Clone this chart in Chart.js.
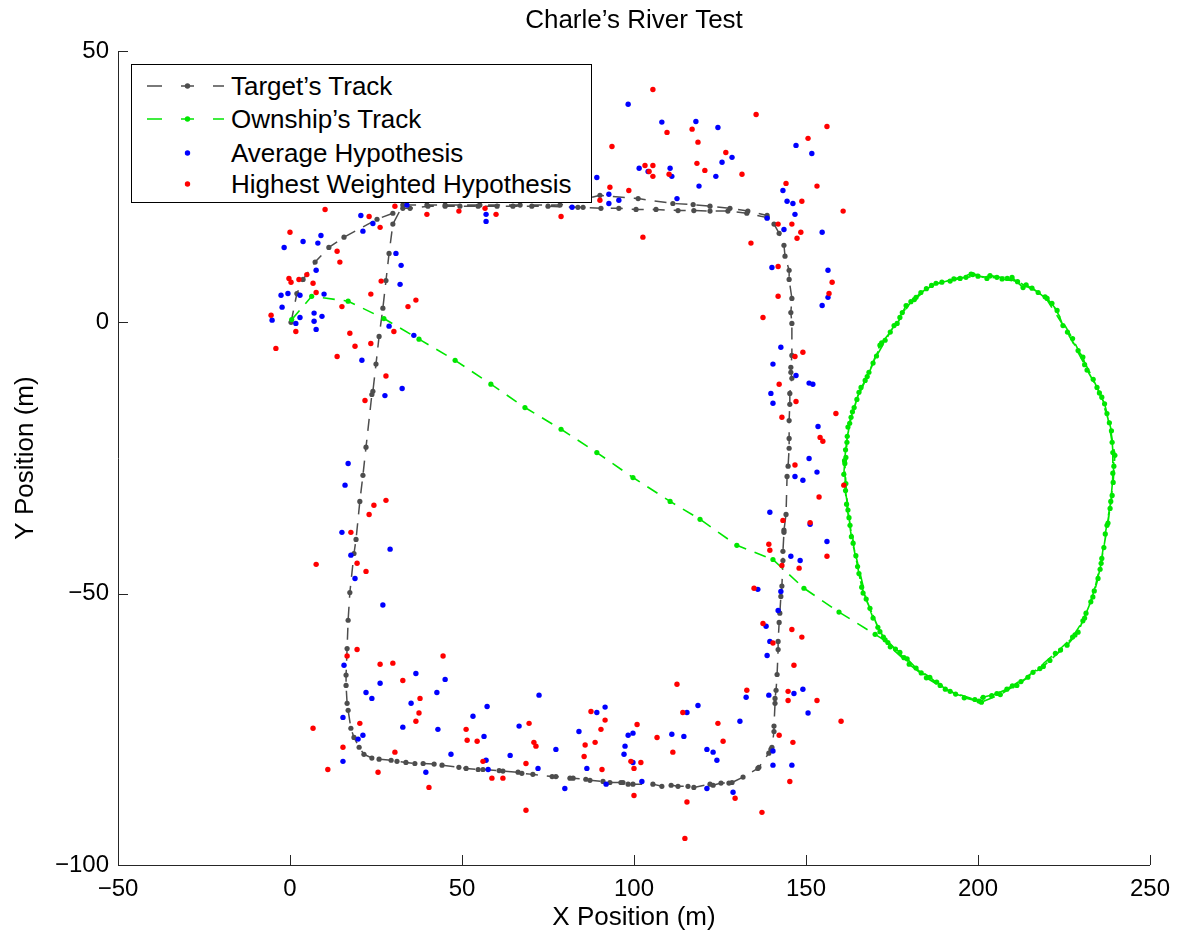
<!DOCTYPE html>
<html>
<head>
<meta charset="utf-8">
<script src="https://cdn.jsdelivr.net/npm/chart.js@4.4.1/dist/chart.umd.min.js"></script>
<style>
  html, body { margin: 0; padding: 0; background: #fff; }
  #wrap { position: relative; width: 1180px; height: 937px; }
  #c { position: absolute; left: 0; top: 0; }
  #legend {
    position: absolute; left: 131px; top: 64px; width: 459px; height: 137px;
    border: 1.5px solid #000; background: #fff;
    font-family: "Liberation Sans", Arial, sans-serif; font-size: 26px; color: #000;
  }
  .row { position: absolute; left: 0; height: 32px; width: 100%; }
  .row svg { position: absolute; left: 0; top: 0; }
  .row span { position: absolute; left: 99px; top: 0; line-height: 32px; white-space: nowrap; }
</style>
</head>
<body>
<div id="wrap">
  <canvas id="c" width="1180" height="937"></canvas>
  <div id="legend"></div>
</div>
<script>
// ---------------- data ----------------
const chartTitle = "Charle\u2019s River Test";
const xAxisTitle = "X Position (m)";
const yAxisTitle = "Y Position (m)";
const xTicks = [-50, 0, 50, 100, 150, 200, 250];
const yTicks = [-100, -50, 0, 50];
const seriesNames = ["Target\u2019s Track", "Ownship\u2019s Track", "Average Hypothesis", "Highest Weighted Hypothesis"];

const targetTrack = [
[0.3,0.0],[2.0,5.3],[3.8,7.9],[7.3,11.1],[11.3,13.8],[15.7,15.7],[25.3,19.0],[29.9,20.1],[32.8,21.0],
[34.9,21.0],[40.1,21.4],[45.1,21.4],[49.4,21.4],[54.7,21.4],[60.2,21.4],[64.8,21.4],[70.3,21.4],[75.0,21.4],[83.7,21.2],[85.2,21.2],[90.4,21.0],[95.6,21.0],[100.6,20.8],[106.4,20.8],[112.8,20.6],[117.4,20.6],[122.1,20.5],[127.3,20.5],[132.8,20.1],[138.7,19.3],
[140.7,18.1],[142.2,16.4],[143.6,14.2],[143.9,12.2],[145.1,9.6],[145.1,7.9],[145.9,4.4],[145.6,1.8],[145.9,-0.2],[145.9,-6.1],[145.6,-8.3],[145.6,-9.2],[145.9,-10.3],[145.3,-13.1],[145.3,-15.1],[145.1,-18.1],[145.1,-21.4],[145.1,-23.2],[144.8,-26.5],[144.5,-28.4],[144.2,-35.4],[143.6,-38.3],[143.6,-38.7],[143.3,-42.2],[143.3,-43.9],[143.0,-48.6],[142.7,-50.5],[142.4,-53.6],[142.2,-55.3],[141.9,-58.8],[141.9,-60.3],[141.6,-64.9],[141.3,-67.8],[141.0,-69.3],[141.0,-70.2],[140.7,-74.4],[140.7,-75.4],[140.1,-78.3],[139.8,-78.7],[139.2,-79.4],[136.3,-82.0],[136.0,-82.2],[131.7,-83.8],[128.5,-84.8],[127.6,-84.9],[125.3,-84.9],[123.0,-85.3],[122.1,-85.1],[117.4,-85.7],[115.7,-85.5],[112.8,-85.5],[110.8,-85.3],[108.1,-85.5],[105.5,-85.1],[99.7,-85.1],[98.3,-85.1],[96.8,-84.8],[96.2,-84.8],[93.0,-84.8],[91.0,-84.6],[87.2,-84.4],[86.0,-84.2],[82.3,-84.0],[81.4,-84.0],[77.3,-83.7],[76.2,-83.7],[70.6,-83.3],[67.4,-83.1],[66.3,-82.9],[61.9,-82.7],[60.8,-82.6],[56.1,-82.4],[54.7,-82.4],[51.2,-82.2],[49.1,-82.0],[44.2,-81.6],[41.9,-81.4],[38.7,-81.3],[36.3,-81.3],[33.7,-81.1],[31.1,-80.9],[29.4,-80.7],[25.9,-80.5],[23.8,-80.3],[21.5,-79.6],[20.1,-78.3],[18.6,-76.5],[17.7,-74.8],[16.9,-71.5],[16.6,-70.2],[16.3,-66.9],[16.3,-65.0],[16.6,-60.1],[16.9,-54.9],[17.4,-49.8],[18.6,-42.6],[19.2,-40.0],[20.3,-33.0],[21.2,-28.2],[22.1,-23.0],[23.8,-13.3],[24.1,-12.7],[25.0,-7.7],[25.9,-2.6],[27.0,2.6],[27.9,7.7],[28.8,12.7],[29.9,18.1],[32.8,21.6],[39.8,21.6],[45.1,21.6],[55.2,21.6],[66.9,21.6],[78.5,21.6],[90.1,23.4],[101.2,22.8],[111.3,21.9],[117.2,21.7],[122.1,21.4],[127.9,21.0],[133.1,20.5],[138.7,19.7]
];

const ownshipTrack = [
[0.5,0.5],[6.3,4.8],[16.9,3.9],[27.3,0.7],[37.5,-3.1],[48.0,-7.0],[58.4,-11.4],[68.3,-15.7],[78.8,-19.7],[89.2,-24.0],[99.7,-28.6],[110.5,-33.0],[119.2,-36.3],[129.9,-41.1],[140.4,-43.7],[149.4,-49.0],[159.6,-53.4],[170.1,-57.5],
[173.8,-59.0],[177.3,-60.8],[179.4,-62.0],[182.0,-63.7],[186.0,-65.4],[189.0,-66.9],[191.9,-68.0],[199.1,-69.5],[201.5,-69.1],[205.5,-68.4],[208.4,-67.6],[211.3,-66.9],[214.5,-65.4],[218.0,-63.8],[220.9,-62.3],[225.9,-59.5],[229.1,-57.1],[231.4,-53.6],[233.4,-50.6],[234.9,-47.2],[235.8,-44.4],[236.6,-41.5],[237.5,-37.4],[238.4,-34.3],[239.0,-31.9],[239.2,-27.8],[239.2,-24.0],[239.0,-22.1],[237.5,-16.8],[236.0,-13.8],[234.6,-12.0],[231.7,-8.8],[230.5,-6.4],[229.1,-5.2],[224.7,-0.6],[223.0,2.2],[220.1,4.4],[215.7,6.3],[213.1,6.4],[209.9,8.3],[205.5,8.3],[202.6,8.1],[198.5,8.8],[194.8,8.1],[191.9,7.6],[187.8,7.2],[183.4,5.5],[182.0,4.6],[179.1,3.1],[177.3,0.9],[175.6,-0.6],[173.0,-3.3],[171.5,-4.2],[168.3,-9.2],[167.2,-10.7],[165.4,-12.9],[164.0,-15.7],[163.1,-17.5],[162.2,-19.3],[161.9,-22.1],[161.6,-24.9],[161.3,-26.0],[161.6,-29.7],[162.2,-34.6],[162.8,-37.4],[163.7,-40.7],[165.4,-46.3],[166.6,-49.9],[168.6,-52.7],[170.9,-56.2],
[173.0,-58.5],[178.5,-61.8],[183.5,-64.6],[188.0,-66.3],[193.5,-68.5],[200.3,-69.8],[204.0,-68.8],[210.0,-67.0],[216.0,-64.5],[222.5,-61.0],[227.5,-58.0],[230.5,-55.0],[232.8,-51.5],[235.5,-45.5],[237.0,-39.0],[238.6,-33.0],[239.5,-26.5],[238.8,-20.0],[236.8,-15.0],[233.5,-10.5],[227.5,-3.0],[221.5,3.5],[217.5,5.5],[211.5,7.5],[207.0,8.0],[200.0,8.5],[196.5,8.3],[189.5,7.4],[185.0,6.2],[180.5,3.8],[176.5,-0.2],[172.0,-3.8],[169.5,-7.5],[166.0,-12.0],[163.5,-16.5],[162.0,-21.0],[161.2,-25.5],[161.5,-31.0],[162.5,-36.0],[164.5,-43.0],[167.5,-51.0],[171.5,-57.0],
[174.5,-59.8],[180.0,-63.0],[185.0,-65.5],[190.5,-67.6],[196.0,-69.2],[201.0,-70.0],[206.5,-68.6],[212.5,-66.2],[219.0,-63.4],[224.0,-60.4],[228.2,-57.6],[231.0,-54.5],[233.8,-49.5],[236.0,-43.5],[237.8,-37.0],[239.3,-29.5],[239.8,-24.5],[238.2,-18.5],[235.3,-13.0],[231.0,-7.8],[226.0,-1.8],[219.5,4.7],[214.0,6.9],[208.5,8.1],[203.5,8.6],[198.0,8.9],[193.0,8.0],[186.5,6.8],[181.5,4.2],[178.0,1.8],[174.5,-1.8],[170.5,-6.2],[167.8,-10.0],[164.8,-14.2],[162.7,-18.6],[161.5,-23.5],[161.0,-28.0],[161.8,-33.5],[163.2,-39.5],[165.0,-45.0],[166.2,-48.8],[169.5,-54.5],[172.5,-58.0],[176.0,-60.2]
];

const averageHyp = [
[89.2,26.7],[34.0,21.6],[82.0,21.2],[20.6,19.7],[24.1,18.2],[21.2,16.8],[9.0,16.0],[3.8,14.9],[8.1,14.6],[-1.7,13.8],[7.6,9.6],[30.8,12.7],[32.3,10.5],[32.0,7.0],[9.9,5.2],[-0.6,5.3],[-2.6,5.0],[2.9,5.0],[-2.3,2.8],[7.0,1.7],[9.3,1.1],[2.9,0.9],[-5.2,0.4],[1.7,-0.2],[7.0,0.2],[7.6,-1.3],[28.8,-0.7],[36.0,-2.4],
[20.9,-7.0],[32.6,-12.2],[27.6,-13.5],[16.9,-26.0],[16.0,-30.0],[15.1,-38.7],[29.1,-41.8],[17.7,-42.9],[18.9,-47.2],[27.0,-52.1],
[15.7,-63.2],[36.6,-64.7],[45.1,-65.8],[26.2,-66.5],[42.7,-68.2],[22.1,-68.2],[23.8,-69.3],[35.2,-70.2],[57.3,-70.8],[53.2,-72.6],[15.4,-72.8],[32.8,-74.6],[43.0,-75.0],[56.4,-76.3],[21.2,-76.1],[19.8,-76.8],[46.8,-79.6],[57.0,-80.7],[57.6,-82.4],[15.4,-80.9],[39.5,-82.9],
[72.4,-68.7],[66.6,-74.4],[64.0,-79.8],[72.1,-82.2],[77.3,-78.7],[79.9,-85.9],[84.0,-75.4],[89.2,-71.9],[91.6,-70.9],[86.3,-82.2],[91.9,-85.1],[98.3,-76.1],[99.7,-75.7],[97.4,-78.1],[97.1,-79.6],[99.7,-81.1],[102.3,-84.6],[111.0,-75.9],[115.4,-71.9],[114.5,-76.3],[118.6,-70.6],[121.2,-78.7],[123.0,-79.2],[124.1,-80.7],[130.8,-73.5],[121.2,-85.9],[128.8,-86.6],
[138.4,-56.0],[139.5,-58.8],[138.7,-61.4],[132.6,-69.1],[139.2,-68.7],[146.5,-68.4],[149.1,-67.6],[150.6,-72.0],[140.4,-79.0],[140.4,-81.6],[145.9,-81.6],
[142.7,-4.6],[140.4,-7.7],[147.1,-9.8],[150.9,-11.2],[152.0,-11.4],[139.8,-13.1],[140.4,-14.9],[153.5,-19.2],[150.9,-25.1],[153.2,-27.6],[146.8,-28.4],[149.1,-29.1],[139.5,-35.0],[151.2,-37.2],[156.1,-40.4],[145.6,-43.1],[148.3,-43.9],[136.0,-49.2],[142.7,-49.6],[141.9,-53.1],
[143.3,24.3],[144.5,22.3],[146.2,21.9],[146.8,19.9],[138.7,19.2],[143.6,17.1],[154.7,16.6],[140.1,10.1],[156.4,9.6],[156.4,4.6],[154.7,3.1],
[98.3,40.2],[108.1,36.9],[118.0,37.0],[124.4,35.9],[125.6,29.5],[128.5,30.4],[147.1,32.6],[101.5,28.4],[104.1,27.8],[110.5,28.4],[111.0,26.9],[123.8,26.9],[118.9,25.1],[92.7,23.6],[95.6,22.5],[92.7,21.9],[112.5,22.8],[57.0,19.9],[57.0,18.6],[151.7,31.1]
];

const highestHyp = [
[10.2,20.8],[30.5,21.4],[39.8,19.9],[49.1,20.5],[56.7,21.0],[90.1,22.5],[23.0,19.5],[26.2,17.5],[0.0,16.6],[13.7,13.1],[14.5,11.1],[4.9,8.8],[-0.3,8.1],[0.3,7.4],[2.6,7.9],[6.7,7.2],[26.5,7.6],[7.6,5.5],[23.5,5.2],[36.6,4.1],[34.3,2.9],[15.1,2.9],[-5.5,1.3],[1.7,-1.7],[30.2,-1.7],[17.4,-2.0],[18.9,-4.4],[23.5,-3.9],[-4.1,-4.8],[13.7,-6.3],[27.9,-9.9],[21.8,-14.4],
[27.9,-32.8],[24.4,-33.7],[23.0,-35.4],[17.7,-38.7],[7.6,-44.6],[19.5,-44.4],[22.1,-45.9],
[19.5,-60.3],[16.6,-61.5],[26.2,-63.0],[29.9,-62.8],[44.5,-61.5],[32.8,-66.0],[37.8,-69.3],[37.5,-72.0],[36.6,-73.5],[20.3,-73.9],[6.7,-74.8],[51.2,-75.0],[51.5,-77.0],[54.4,-77.2],[15.4,-78.3],[30.5,-79.2],[56.1,-80.9],[11.0,-82.4],[25.6,-82.9],[58.7,-84.0],[40.4,-85.7],
[69.5,-73.9],[70.9,-77.4],[71.5,-78.1],[61.9,-84.0],[68.6,-81.3],[68.6,-89.9],[87.5,-71.7],[91.6,-73.3],[90.4,-75.0],[88.7,-77.4],[85.8,-77.9],[85.5,-80.0],[90.7,-82.4],[100.9,-74.1],[99.1,-80.9],[102.0,-81.1],[100.0,-82.2],[100.0,-87.2],[106.7,-76.5],[111.3,-79.2],[112.5,-66.7],[114.2,-71.9],[115.4,-88.4],[114.8,-95.1],[124.4,-73.9],[125.9,-77.2],[129.4,-87.7],
[137.5,-55.5],[145.9,-56.6],[148.8,-58.0],[140.4,-59.1],[146.5,-63.2],[132.8,-67.8],[144.8,-68.0],[144.8,-69.7],[153.2,-69.7],[160.2,-73.5],[142.2,-76.1],[146.2,-77.4],[145.3,-84.6],[137.2,-90.3],
[146.8,-6.3],[149.1,-5.5],[142.2,-11.4],[147.1,-14.6],[143.0,-17.5],[158.7,-16.8],[154.1,-21.2],[154.9,-21.9],[146.8,-26.3],[153.8,-32.2],[161.0,-30.0],[143.3,-36.5],[151.2,-36.9],[139.2,-40.9],[139.5,-42.0],[156.1,-43.1],[143.0,-44.8],[148.0,-45.3],[134.9,-49.0],
[148.8,22.3],[160.8,20.5],[141.9,18.1],[145.9,18.1],[148.5,16.6],[147.4,15.5],[134.0,14.6],[141.9,10.3],[157.6,7.4],[156.7,5.3],[141.9,4.8],[137.5,0.9],
[105.5,42.9],[135.5,38.3],[109.6,35.0],[116.9,35.6],[118.6,33.2],[93.6,32.4],[126.7,31.3],[118.3,29.3],[120.6,28.0],[103.2,28.9],[105.5,28.9],[104.4,27.8],[110.2,27.3],[105.5,26.9],[131.4,27.3],[144.2,25.6],[93.0,24.9],[98.5,24.3],[78.8,19.5],[59.9,19.9],[102.6,15.7],[150.6,33.9],[156.1,36.1],[153.2,25.1]
];

// ---------------- styles ----------------
const GRAY = '#4d4d4d', GREEN = '#00e600', BLUE = '#0000ff', RED = '#ff0000';
const FONT = '"Liberation Sans", Arial, Helvetica, sans-serif';
const toXY = a => a.map(p => ({x: p[0], y: p[1]}));
const minus = v => String(v).replace('-', '\u2212');

const innerTicks = {
  id: 'innerTicks',
  afterDraw(chart) {
    const {ctx, chartArea: a, scales: {x, y}} = chart;
    ctx.save();
    ctx.strokeStyle = '#262626';
    ctx.lineWidth = 1;
    ctx.beginPath();
    xTicks.forEach(v => { const px = Math.round(x.getPixelForValue(v)) + 0.5; ctx.moveTo(px, a.bottom); ctx.lineTo(px, a.bottom - 10); });
    yTicks.forEach(v => { const py = Math.round(y.getPixelForValue(v)) + 0.5; ctx.moveTo(a.left, py); ctx.lineTo(a.left + 10, py); });
    ctx.stroke();
    // title centred over the plot area
    ctx.fillStyle = '#000';
    ctx.font = '26px ' + FONT;
    ctx.textAlign = 'center';
    ctx.textBaseline = 'middle';
    ctx.fillText(chartTitle, (a.left + a.right) / 2, 21);
    ctx.restore();
  }
};

new Chart(document.getElementById('c'), {
  type: 'scatter',
  data: {
    datasets: [
      { label: seriesNames[0], data: toXY(targetTrack), showLine: true, borderColor: GRAY, borderWidth: 1.5, borderDash: [12, 9],
        pointRadius: 2.6, pointBackgroundColor: GRAY, pointBorderWidth: 0, order: 4 },
      { label: seriesNames[1], data: toXY(ownshipTrack), showLine: true, borderColor: GREEN, borderWidth: 1.6, borderDash: [12, 9],
        pointRadius: 2.6, pointBackgroundColor: GREEN, pointBorderWidth: 0, order: 3 },
      { label: seriesNames[2], data: toXY(averageHyp), showLine: false, pointRadius: 2.7, pointBackgroundColor: BLUE, pointBorderWidth: 0, order: 2 },
      { label: seriesNames[3], data: toXY(highestHyp), showLine: false, pointRadius: 2.7, pointBackgroundColor: RED, pointBorderWidth: 0, order: 1 }
    ]
  },
  options: {
    responsive: false, animation: false, events: [],
    layout: { padding: { left: 0, right: 30, top: 51, bottom: 0 } },
    plugins: {
      legend: { display: false }, tooltip: { enabled: false }, title: { display: false }
    },
    scales: {
      x: {
        type: 'linear', min: xTicks[0], max: xTicks[xTicks.length - 1],
        afterBuildTicks: s => { s.ticks = xTicks.map(v => ({value: v})); },
        afterFit: s => { s.height = 72; },
        grid: { drawOnChartArea: false, drawTicks: false },
        border: { display: true, color: '#262626', width: 1 },
        ticks: { color: '#000', padding: 10, maxRotation: 0, autoSkip: false, font: { family: FONT, size: 24 }, callback: v => minus(v) },
        title: { display: true, text: xAxisTitle, color: '#000', font: { family: FONT, size: 26, lineHeight: 1.2 }, padding: { top: 0, bottom: 4 } }
      },
      y: {
        type: 'linear', min: yTicks[0], max: yTicks[yTicks.length - 1],
        afterBuildTicks: s => { s.ticks = yTicks.map(v => ({value: v})); },
        afterFit: s => { s.width = 118; },
        grid: { drawOnChartArea: false, drawTicks: false },
        border: { display: true, color: '#262626', width: 1 },
        ticks: { color: '#000', padding: 9, autoSkip: false, font: { family: FONT, size: 24 }, callback: v => minus(v) },
        title: { display: true, text: yAxisTitle, color: '#000', font: { family: FONT, size: 26, lineHeight: 1.2 }, padding: { top: 10, bottom: 0 } }
      }
    }
  },
  plugins: [innerTicks]
});

// ---------------- legend (HTML, real text) ----------------
const legendEl = document.getElementById('legend');
const legendRows = [
  { name: seriesNames[0], color: GRAY, line: true },
  { name: seriesNames[1], color: GREEN, line: true },
  { name: seriesNames[2], color: BLUE, line: false },
  { name: seriesNames[3], color: RED, line: false }
];
const rowTops = [5, 38, 72, 103];
legendRows.forEach((r, i) => {
  const row = document.createElement('div');
  row.className = 'row';
  row.style.top = rowTops[i] + 'px';
  let svg = '<svg width="98" height="32">';
  if (r.line) {
    svg += '<g stroke="' + r.color + '" stroke-width="1.5">' +
           '<line x1="15" y1="16" x2="30" y2="16"/><line x1="49" y1="16" x2="62" y2="16"/><line x1="81" y1="16" x2="92" y2="16"/></g>';
  }
  svg += '<circle cx="55.5" cy="16" r="2.7" fill="' + r.color + '"/></svg>';
  row.innerHTML = svg + '<span>' + r.name + '</span>';
  legendEl.appendChild(row);
});
</script>
</body>
</html>
